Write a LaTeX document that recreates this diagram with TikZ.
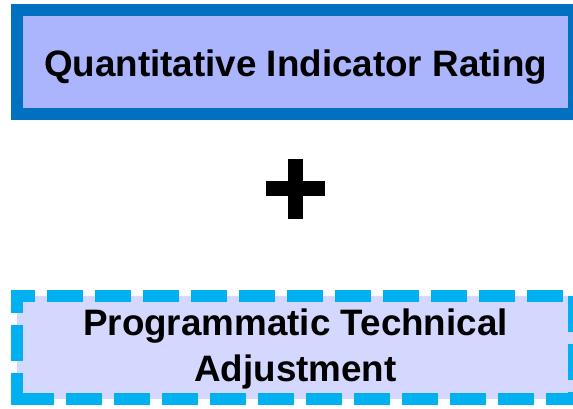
\documentclass[tikz,border=0pt]{standalone}
\usepackage{fontspec}
\setmainfont{Liberation Sans}
\definecolor{topblue}{HTML}{0070C0}
\definecolor{topfill}{HTML}{AAB5FD}
\definecolor{cyanline}{HTML}{00B0F0}
\definecolor{botfill}{HTML}{D4D8FE}
\begin{document}
\begin{tikzpicture}[x=1pt,y=-1pt,
  boxbase/.style={rectangle, inner sep=0pt, minimum width=557pt, minimum height=103.5pt},
  topbox/.style={boxbase, fill=topfill, draw=topblue, line width=12pt},
  botbox/.style={boxbase, fill=botfill},
  botline/.style={draw=cyanline, line width=12pt, dash pattern=on 36pt off 12pt, dash phase=18.3pt, line join=miter},
  lbl/.style={font=\bfseries\fontsize{36.8}{46.5}\selectfont, text=black, inner sep=0pt, align=center}]
\useasboundingbox (0,0) rectangle (573,408);
% top box
\node[topbox] (qbox) at (295.5,62) {};
\node[lbl, anchor=base] (qtext) at (295.5,76.7) {Quantitative Indicator Rating};
% plus sign
\coordinate (plus) at (295.3,188.8);
\fill[black] ([xshift=-29.6pt,yshift=7.5pt]plus) rectangle ([xshift=29.6pt,yshift=-7.5pt]plus);
\fill[black] ([xshift=-7.5pt,yshift=29.8pt]plus) rectangle ([xshift=7.5pt,yshift=-29.8pt]plus);
% bottom box
\node[botbox] (pbox) at (295.5,347.5) {};
\draw[botline] (pbox.north west) -- (pbox.north east) -- (pbox.south east) -- (pbox.south west);
\draw[botline, dash phase=12.3pt] ([yshift=6pt]pbox.north west) -- ([yshift=-6pt]pbox.south west);
\node[lbl, anchor=base] (ptext) at (295.5,381.7) {Programmatic Technical\\Adjustment};
\end{tikzpicture}
\end{document}
